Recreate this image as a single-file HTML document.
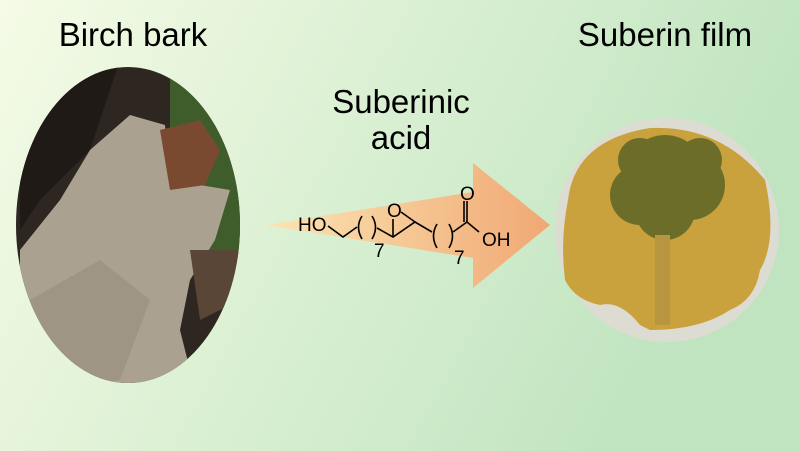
<!DOCTYPE html>
<html><head><style>body{margin:0}svg{display:block}</style></head><body>
<svg width="800" height="451" viewBox="0 0 800 451" xmlns="http://www.w3.org/2000/svg" font-family="Liberation Sans, sans-serif">
<defs>
<linearGradient id="bg" x1="0" y1="0" x2="1" y2="0.3"><stop offset="0" stop-color="#f5fbe6"/><stop offset="1" stop-color="#bfe4bf"/></linearGradient>
<linearGradient id="ar" x1="0" x2="1"><stop offset="0" stop-color="#fbe5b3"/><stop offset="1" stop-color="#f0a874"/></linearGradient>
<clipPath id="ce"><ellipse cx="128" cy="225" rx="112" ry="158"/></clipPath>
</defs>
<rect width="800" height="451" fill="url(#bg)"/>
<g clip-path="url(#ce)">
<rect x="0" y="60" width="250" height="330" fill="#2e2620"/>
<rect x="170" y="60" width="80" height="200" fill="#3f5d2a"/>
<path d="M20 250 L60 200 L90 150 L130 115 L165 125 L170 180 L230 190 L215 240 L190 280 L180 330 L195 390 L20 390 Z" fill="#aaa190"/>
<path d="M30 300 L100 260 L150 300 L120 380 L40 390 Z" fill="#9e9585"/>
<path d="M160 130 L200 120 L220 150 L205 185 L170 190 Z" fill="#7a4a30"/>
<path d="M20 60 L120 60 L90 150 L40 200 L20 230 Z" fill="#1f1a16"/>
<path d="M190 250 L240 250 L240 300 L200 320 Z" fill="#5a4636"/>
</g>
<circle cx="667" cy="230" r="112" fill="#dcdcd2"/>
<path d="M568 200 Q575 140 650 128 Q720 125 765 180 Q778 240 760 270 Q755 300 730 310 Q700 330 650 330 L640 325 Q620 300 600 305 Q575 300 565 280 Q560 240 568 200Z" fill="#c9a13d"/>
<g fill="#6d6d2a"><circle cx="665" cy="175" r="40"/><circle cx="690" cy="185" r="35"/><circle cx="640" cy="195" r="30"/><circle cx="665" cy="210" r="30"/><circle cx="700" cy="160" r="22"/><circle cx="640" cy="160" r="22"/></g>
<rect x="655" y="235" width="15" height="90" fill="#b89540"/>
<text x="133" y="46" font-size="33" text-anchor="middle" fill="#000">Birch bark</text>
<text x="665" y="46" font-size="33" text-anchor="middle" fill="#000">Suberin film</text>
<text x="401" y="113" font-size="33" text-anchor="middle" fill="#000">Suberinic</text>
<text x="401" y="149" font-size="33" text-anchor="middle" fill="#000">acid</text>
<path d="M265 225 L473 192 L473 163 L550 225 L473 288 L473 258 Z" fill="url(#ar)"/>
<g stroke="#000" stroke-width="1.6" fill="none">
<path d="M328 226 L343 237 L357 227"/>
<path d="M362 216 Q355 227 362 239"/>
<path d="M372 216 Q379 227 372 239"/>
<path d="M377 228 L393 237 L415 222 L432 232"/>
<path d="M393 237 L393 219 M415 222 L401 212"/>
<path d="M437 224 Q430 236 437 248"/>
<path d="M449 224 Q456 236 449 248"/>
<path d="M453 232 L467 222 L479 232"/>
<path d="M467 222 L467 201 M464 222 L464 201"/>
</g>
<text x="298" y="231" font-size="19">HO</text>
<text x="387" y="217" font-size="19">O</text>
<text x="374" y="257" font-size="19">7</text>
<text x="454" y="264" font-size="19">7</text>
<text x="460" y="200" font-size="19">O</text>
<text x="482" y="246" font-size="19">OH</text>
</svg>
</body></html>
